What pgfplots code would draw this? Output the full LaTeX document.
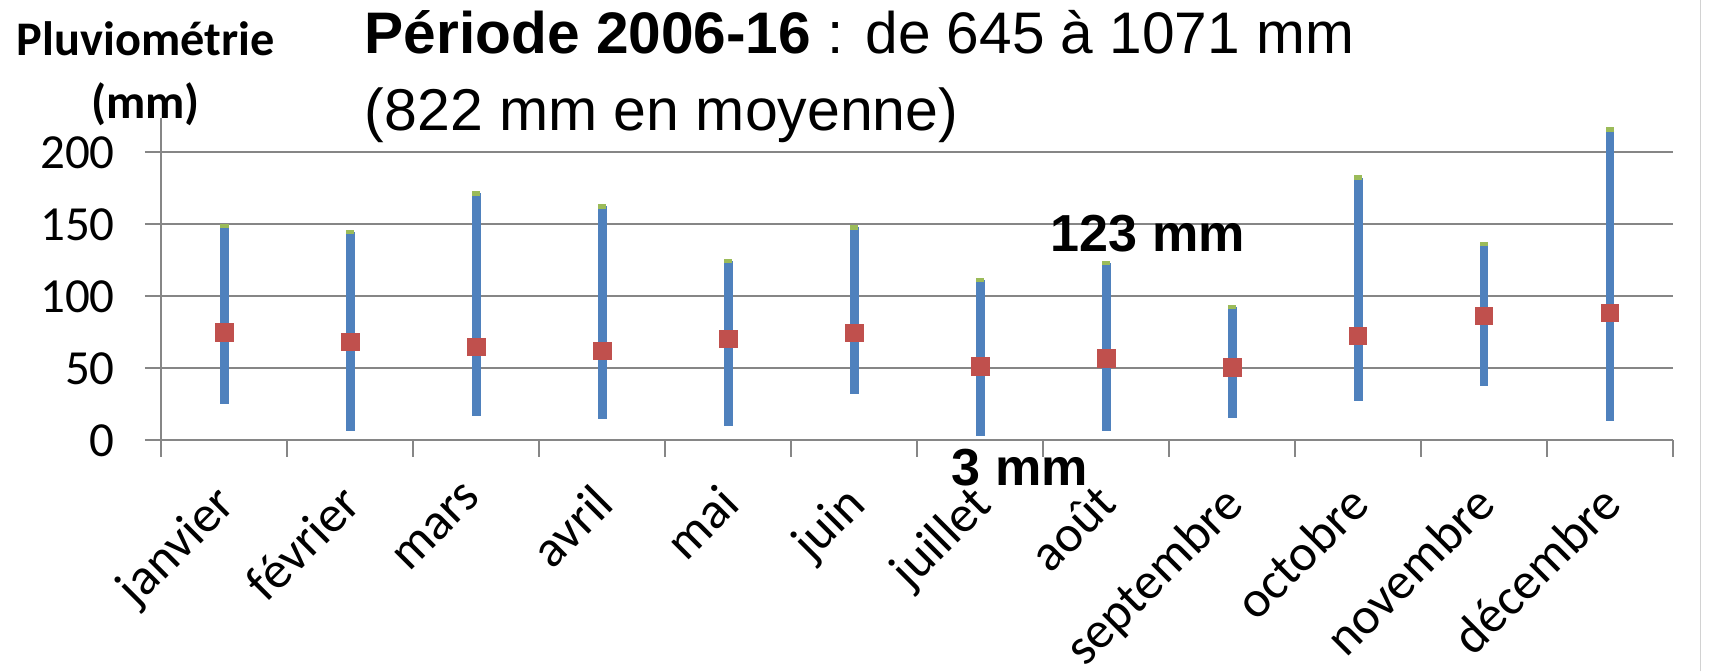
\documentclass[border=0pt]{standalone}
\usepackage{fontspec}
\setmainfont{Carlito}
\newfontfamily\arialf{Liberation Sans}
\usepackage{pgfplots}
\usepackage{pgfplotstable}
\pgfplotsset{compat=1.18}
\definecolor{barblue}{HTML}{4F81BD}
\definecolor{sqred}{HTML}{C0504D}
\definecolor{hgreen}{HTML}{9BBB59}
\definecolor{gridgray}{HTML}{868686}
\pgfplotstableread{
x low high mean
0 25.1 148.7 74.6
1 6.3 144.5 68.3
2 16.7 171.4 64.8
3 14.6 162.4 62.0
4 9.7 124.4 70.3
5 32.2 147.8 74.5
6 3.0 111.4 51.5
7 6.3 123.0 56.8
8 15.3 92.6 50.8
9 27.1 182.4 72.4
10 37.6 136.4 86.3
11 13.2 215.8 88.4
}\pluvio
\begin{document}
\begin{tikzpicture}
\path[use as bounding box] (-1.48,-2.12) rectangle (14.20,4.04);
\begin{axis}[
  scale only axis, width=13.87cm, height=2.96cm,
  xmin=-0.5, xmax=11.5, ymin=0, ymax=224,
  axis lines=left,
  axis line style={-, draw=gridgray, line width=0.5pt},
  ymajorgrids, grid style={draw=gridgray, line width=0.5pt},
  ytick={0,50,100,150,200},
  tick align=outside,
  major tick length=0.15cm,
  tick style={draw=gridgray, line width=0.5pt},
  xtick={-0.5,0.5,...,11.5},
  xticklabels={janvier,février,mars,avril,mai,juin,juillet,août,septembre,octobre,novembre,décembre,{}},
  xticklabel style={xshift=0.47cm, yshift=-0.22cm, rotate=45, anchor=north east, inner sep=0pt, font=\fontsize{13.5}{16}\selectfont},
  yticklabel style={anchor=east, inner sep=0pt, xshift=-0.27cm, font=\fontsize{12.8}{15}\selectfont},
  /pgf/number format/assume math mode=true,
  clip=false,
]
\addplot[draw=none, mark=none, forget plot,
  error bars/.cd, y dir=both, y explicit, error mark=none,
  error bar style={line width=2.3pt, color=barblue}]
  table[x=x, y=mean,
        y error plus expr=\thisrow{high}-\thisrow{mean},
        y error minus expr=\thisrow{mean}-\thisrow{low}] {\pluvio};
\addplot[only marks, mark=-, mark size=1.1pt, color=hgreen, mark options={line width=1.2pt}]
  table[x=x, y=high] {\pluvio};
\addplot[only marks, mark=square*, mark size=2.25pt, color=sqred]
  table[x=x, y=mean] {\pluvio};
\end{axis}
\node[anchor=base west, inner sep=0pt, font=\arialf\fontsize{15.3}{18}\selectfont] at (1.86,3.545) {\textbf{Période 2006-16} : de 645 à 1071 mm};
\node[anchor=base west, inner sep=0pt, font=\arialf\fontsize{15.4}{18}\selectfont] at (1.86,2.847) {(822 mm en moyenne)};
\node[anchor=base, inner sep=0pt, font=\bfseries\fontsize{12.6}{15}\selectfont] at (-0.144,3.535) {Pluviométrie};
\node[anchor=base, inner sep=0pt, font=\bfseries\fontsize{12.6}{15}\selectfont] at (-0.144,2.955) {(mm)};
\node[anchor=base, inner sep=0pt, font=\arialf\bfseries\fontsize{13.6}{16}\selectfont] at (9.05,1.731) {123 mm};
\node[anchor=base, inner sep=0pt, font=\arialf\bfseries\fontsize{13.6}{16}\selectfont] at (7.878,-0.41) {3 mm};
\draw[gray!35, line width=0.4pt] (14.12,-2.12) -- (14.12,4.04);
\end{tikzpicture}
\end{document}
